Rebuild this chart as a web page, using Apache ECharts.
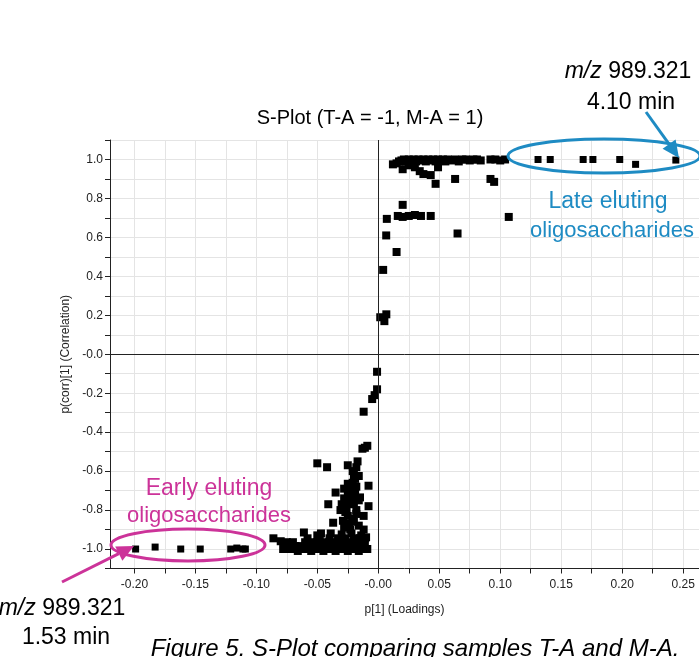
<!DOCTYPE html>
<html>
<head>
<meta charset="utf-8">
<script src="https://cdn.jsdelivr.net/npm/echarts@6/dist/echarts.min.js"></script>
<style>
html,body{margin:0;padding:0;background:#fff;}
#c{width:699px;height:657px;}
</style>
</head>
<body>
<div id="c"></div>
<script>
// ---------- data ----------
const xTickLabels = [-0.20, -0.15, -0.10, -0.05, 0.00, 0.05, 0.10, 0.15, 0.20, 0.25];
const xTickMarks = [-0.2, -0.175, -0.15, -0.125, -0.1, -0.075, -0.05, -0.025, 0, 0.025, 0.05, 0.075, 0.1, 0.125, 0.15, 0.175, 0.2, 0.225, 0.25];
const yTickLabels = [-1.0, -0.8, -0.6, -0.4, -0.2, 0.0, 0.2, 0.4, 0.6, 0.8, 1.0];
const yTickMarks = [-1.1, -1.0, -0.9, -0.8, -0.7, -0.6, -0.5, -0.4, -0.3, -0.2, -0.1, 0, 0.1, 0.2, 0.3, 0.4, 0.5, 0.6, 0.7, 0.8, 0.9, 1.0, 1.1];

const lateEluting = [[0.131,1.0],[0.141,1.0],[0.168,1.0],[0.176,1.0],[0.198,1.0],[0.211,0.975],[0.244,0.997]];
const earlyEluting = [[-0.199,-1.0],[-0.183,-0.99],[-0.162,-1.0],[-0.146,-1.0],[-0.121,-1.0],[-0.116,-0.995],[-0.111,-1.0],[-0.109,-1.0]];

const upperCluster = [
  [0.012,0.975],[0.015,0.98],[0.017,0.99],[0.019,0.995],[0.021,1.0],[0.023,0.99],[0.025,1.0],[0.027,0.995],
  [0.029,1.0],[0.031,0.99],[0.033,1.0],[0.035,0.995],[0.037,1.0],[0.039,0.99],[0.041,1.0],[0.043,0.995],
  [0.045,1.0],[0.047,0.99],[0.049,1.0],[0.051,0.995],[0.053,1.0],[0.055,0.99],[0.057,1.0],[0.060,0.995],
  [0.063,1.0],[0.066,0.99],[0.069,1.0],[0.072,1.0],[0.075,0.995],[0.078,1.0],[0.081,1.0],[0.084,0.995],
  [0.092,1.0],[0.096,1.0],[0.100,0.995],[0.104,1.0],
  [0.020,0.95],[0.025,0.97],[0.030,0.96],[0.034,0.94],[0.037,0.925],[0.043,0.92],[0.049,0.96],[0.047,0.875],
  [0.063,0.90],[0.092,0.90],[0.095,0.885],
  [0.020,0.767],[0.007,0.695],[0.016,0.71],[0.020,0.705],[0.025,0.71],[0.030,0.715],[0.035,0.71],[0.043,0.71],
  [0.107,0.705],[0.0065,0.61],[0.065,0.62],[0.015,0.525],[0.004,0.433],[0.0016,0.19],[0.0066,0.205],[0.005,0.17]
];

const centerPoints = [[-0.001,-0.09],[-0.001,-0.18],[-0.005,-0.23],[-0.003,-0.21],[-0.012,-0.295],
  [-0.011,-0.48],[-0.013,-0.485],[-0.009,-0.47]];

const lowerCluster = [
  [-0.050,-0.56],[-0.042,-0.58],[-0.025,-0.57],[-0.017,-0.55],[-0.021,-0.60],[-0.016,-0.625],[-0.019,-0.64],
  [-0.025,-0.665],[-0.022,-0.68],[-0.035,-0.71],[-0.008,-0.675],[-0.023,-0.70],[-0.019,-0.715],[-0.015,-0.735],
  [-0.025,-0.72],[-0.028,-0.69],[-0.021,-0.66],[-0.018,-0.68],[-0.020,-0.62],[-0.018,-0.58],
  [-0.041,-0.77],[-0.030,-0.77],[-0.020,-0.77],[-0.025,-0.76],[-0.008,-0.78],[-0.016,-0.75],[-0.028,-0.74],[-0.022,-0.74],
  [-0.012,-0.83],[-0.029,-0.855],[-0.021,-0.845],[-0.025,-0.83],[-0.037,-0.865],[-0.027,-0.81],[-0.018,-0.80],
  [-0.026,-0.79],[-0.018,-0.82],[-0.031,-0.80],[-0.020,-0.86],[-0.024,-0.87],[-0.016,-0.88],[-0.023,-0.90],
  [-0.028,-0.89],[-0.012,-0.90],
  [-0.061,-0.915],[-0.050,-0.93],[-0.047,-0.92],[-0.039,-0.92],[-0.030,-0.925],[-0.022,-0.92],[-0.014,-0.93],[-0.010,-0.94],
  [-0.086,-0.945],[-0.080,-0.96],[-0.075,-0.965],
  [-0.058,-0.945],[-0.048,-0.945],[-0.040,-0.945],[-0.033,-0.945],[-0.027,-0.945],[-0.020,-0.945],[-0.015,-0.945],[-0.011,-0.945],
  [-0.070,-0.965],[-0.060,-0.965],[-0.055,-0.965],[-0.050,-0.965],[-0.045,-0.965],[-0.040,-0.965],[-0.035,-0.965],
  [-0.030,-0.965],[-0.025,-0.965],[-0.020,-0.965],[-0.015,-0.965],[-0.011,-0.965],
  [-0.072,-0.985],[-0.068,-0.985],[-0.064,-0.985],[-0.060,-0.985],[-0.056,-0.985],[-0.052,-0.985],[-0.048,-0.985],
  [-0.044,-0.985],[-0.040,-0.985],[-0.036,-0.985],[-0.032,-0.985],[-0.028,-0.985],[-0.024,-0.985],[-0.020,-0.985],
  [-0.016,-0.985],[-0.012,-0.985],
  [-0.078,-1.0],[-0.075,-1.0],[-0.072,-1.0],[-0.069,-1.0],[-0.066,-1.0],[-0.063,-1.0],[-0.060,-1.0],[-0.057,-1.0],
  [-0.054,-1.0],[-0.051,-1.0],[-0.048,-1.0],[-0.045,-1.0],[-0.042,-1.0],[-0.039,-1.0],[-0.036,-1.0],[-0.033,-1.0],
  [-0.030,-1.0],[-0.027,-1.0],[-0.024,-1.0],[-0.021,-1.0],[-0.018,-1.0],[-0.015,-1.0],[-0.012,-1.0],[-0.009,-1.0],
  [-0.066,-1.01],[-0.055,-1.01],[-0.045,-1.01],[-0.035,-1.01],[-0.025,-1.01],[-0.016,-1.01]
];

// ---------- chart ----------
const BLUE = '#1e8bc3';
const PINK = '#cc3399';
const chart = echarts.init(document.getElementById('c'));

function pt(data, size) {
  return {
    type: 'scatter', data: data, symbol: 'rect', symbolSize: size || 8,
    itemStyle: { color: '#000', opacity: 1 }, silent: true, animation: false
  };
}
function arrow(x1, y1, x2, y2, color) {
  const ang = Math.atan2(y2 - y1, x2 - x1);
  const L = 17, W = 8;
  const bx = x2 - L * Math.cos(ang), by = y2 - L * Math.sin(ang);
  const px = -Math.sin(ang) * W, py = Math.cos(ang) * W;
  return [
    { type: 'line', z: 10, shape: { x1: x1, y1: y1, x2: bx, y2: by }, style: { stroke: color, lineWidth: 3 } },
    { type: 'polygon', z: 10, shape: { points: [[x2, y2], [bx + px, by + py], [bx - px, by - py]] }, style: { fill: color } }
  ];
}
const baseFont = '"Liberation Sans", Arial, sans-serif';

const series = [pt(lowerCluster), pt(centerPoints), pt(upperCluster), pt(lateEluting, 7), pt(earlyEluting, 7)];
series[0].markLine = {
  silent: true, symbol: 'none', label: { show: false }, animation: false,
  lineStyle: { color: '#222', type: 'solid', width: 1 },
  data: [{ xAxis: 0 }, { yAxis: 0 }]
};

chart.setOption({
  animation: false,
  backgroundColor: '#fff',
  grid: { left: 110, right: 0, top: 140, bottom: 88.5, containLabel: false },
  xAxis: {
    type: 'value', min: -0.22, max: 0.263, interval: 0.01,
    name: 'p[1] (Loadings)', nameLocation: 'middle', nameGap: 35,
    nameTextStyle: { fontSize: 12, color: '#222', fontFamily: baseFont },
    axisLine: { onZero: false, lineStyle: { color: '#222', width: 1 } },
    axisTick: { show: true, length: 5, customValues: xTickMarks, lineStyle: { color: '#222' } },
    axisLabel: {
      customValues: xTickLabels, fontSize: 12, color: '#222', fontFamily: baseFont, margin: 10,
      formatter: v => Math.abs(v) < 1e-9 ? '-0.00' : v.toFixed(2)
    },
    splitLine: { show: true, lineStyle: { color: '#e4e4e4', width: 1 } }
  },
  yAxis: {
    type: 'value', min: -1.1, max: 1.1, interval: 0.05,
    name: 'p(corr)[1] (Correlation)', nameLocation: 'middle', nameGap: 38,
    nameTextStyle: { fontSize: 12, color: '#222', fontFamily: baseFont },
    axisLine: { show: true, onZero: false, lineStyle: { color: '#222', width: 1 } },
    axisTick: { show: true, length: 5, customValues: yTickMarks, lineStyle: { color: '#222' } },
    axisLabel: {
      customValues: yTickLabels, fontSize: 12, color: '#222', fontFamily: baseFont, margin: 7,
      formatter: v => Math.abs(v) < 1e-9 ? '-0.0' : v.toFixed(1)
    },
    splitLine: { show: true, lineStyle: { color: '#e4e4e4', width: 1 } }
  },
  series: series,
  graphic: [
    { type: 'text', x: 370, y: 118, z: 10,
      style: { text: 'S-Plot (T-A = -1, M-A = 1)', font: '20px ' + baseFont, fill: '#000', textAlign: 'center', textVerticalAlign: 'middle' } },
    // late eluting
    { type: 'ellipse', z: 10, shape: { cx: 604, cy: 156, rx: 96, ry: 17 }, style: { stroke: BLUE, lineWidth: 3, fill: null } },
    ...arrow(646, 112, 679, 158, BLUE),
    { type: 'text', x: 628, y: 72, z: 10,
      style: { text: '{i|m/z} 989.321', fontSize: 23, fontFamily: baseFont, fill: '#000', textAlign: 'center', textVerticalAlign: 'middle',
        rich: { i: { fontStyle: 'italic', fontSize: 23, fontFamily: baseFont, fill: '#000' } } } },
    { type: 'text', x: 631, y: 103, z: 10,
      style: { text: '4.10 min', font: '23px ' + baseFont, fill: '#000', textAlign: 'center', textVerticalAlign: 'middle' } },
    { type: 'text', x: 608, y: 202, z: 10,
      style: { text: 'Late eluting', font: '23px ' + baseFont, fill: BLUE, textAlign: 'center', textVerticalAlign: 'middle' } },
    { type: 'text', x: 612, y: 231, z: 10,
      style: { text: 'oligosaccharides', font: '22px ' + baseFont, fill: BLUE, textAlign: 'center', textVerticalAlign: 'middle' } },
    // early eluting
    { type: 'ellipse', z: 10, shape: { cx: 188, cy: 545, rx: 77, ry: 16 }, style: { stroke: PINK, lineWidth: 3, fill: null } },
    ...arrow(62, 582, 134, 546, PINK),
    { type: 'text', x: 209, y: 489, z: 10,
      style: { text: 'Early eluting', font: '23px ' + baseFont, fill: PINK, textAlign: 'center', textVerticalAlign: 'middle' } },
    { type: 'text', x: 209, y: 516, z: 10,
      style: { text: 'oligosaccharides', font: '22px ' + baseFont, fill: PINK, textAlign: 'center', textVerticalAlign: 'middle' } },
    { type: 'text', x: 62, y: 609, z: 10,
      style: { text: '{i|m/z} 989.321', fontSize: 23, fontFamily: baseFont, fill: '#000', textAlign: 'center', textVerticalAlign: 'middle',
        rich: { i: { fontStyle: 'italic', fontSize: 23, fontFamily: baseFont, fill: '#000' } } } },
    { type: 'text', x: 66, y: 638, z: 10,
      style: { text: '1.53 min', font: '23px ' + baseFont, fill: '#000', textAlign: 'center', textVerticalAlign: 'middle' } },
    // caption
    { type: 'text', x: 415, y: 649, z: 10,
      style: { text: 'Figure 5. S-Plot comparing samples T-A and M-A.', font: 'italic 24px ' + baseFont, fill: '#000', textAlign: 'center', textVerticalAlign: 'middle' } }
  ]
});
</script>
</body>
</html>
